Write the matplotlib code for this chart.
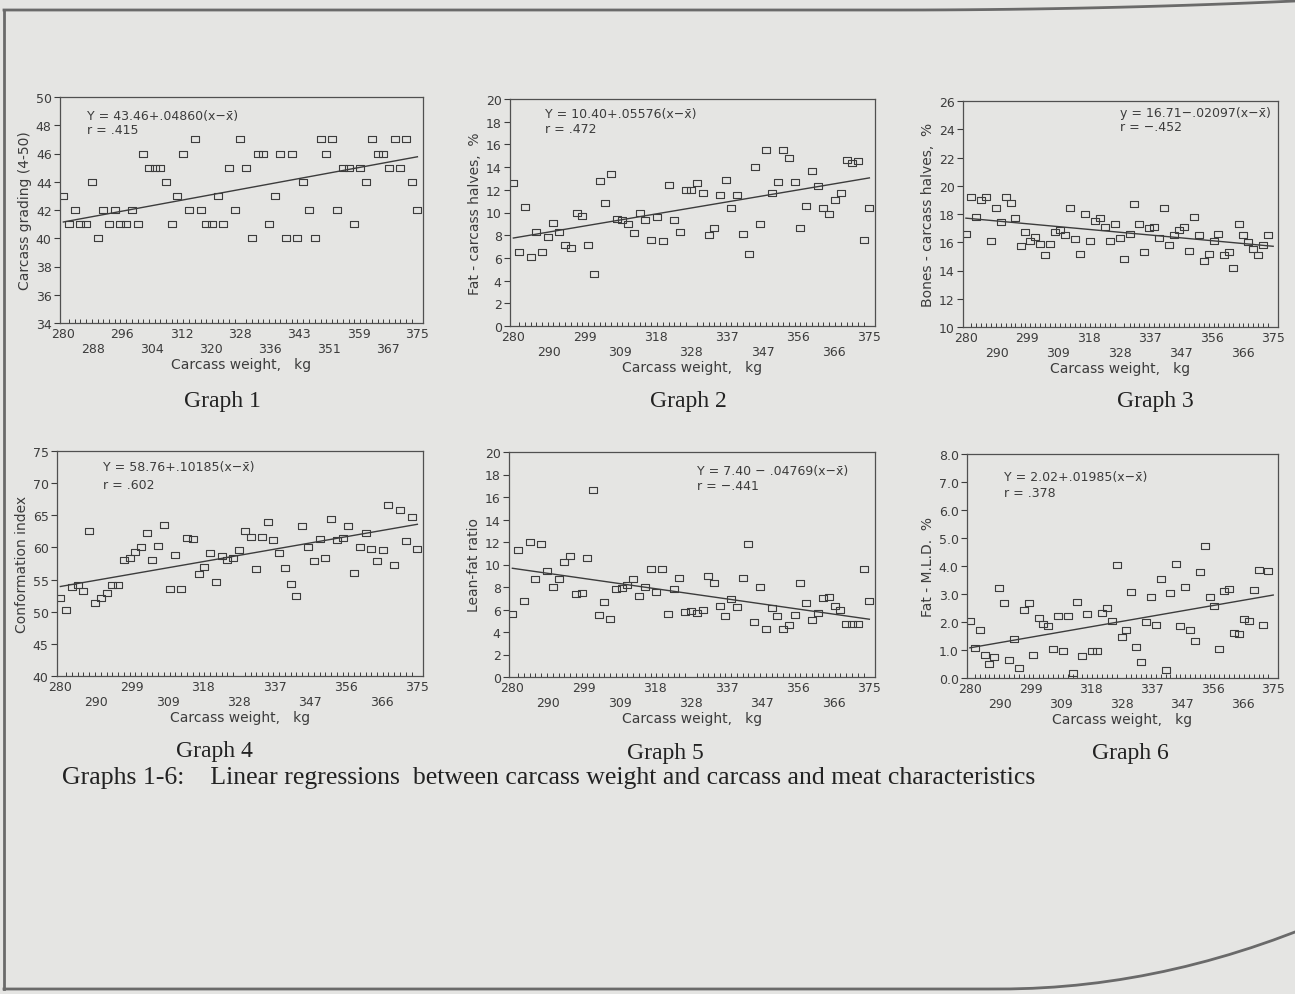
import numpy as np
import matplotlib.pyplot as plt
from matplotlib.lines import Line2D

weights = [280.0, 281.5, 283.1, 284.6, 286.1, 287.7, 289.2, 290.7, 292.3, 293.8,
           295.3, 296.9, 298.4, 299.9, 301.5, 303.0, 304.5, 306.0, 307.6, 309.1,
           310.6, 312.2, 313.7, 315.2, 316.8, 318.3, 319.8, 321.4, 322.9, 324.4,
           326.0, 327.5, 329.0, 330.6, 332.1, 333.6, 335.2, 336.7, 338.2, 339.8,
           341.3, 342.8, 344.4, 345.9, 347.4, 349.0, 350.5, 352.0, 353.5, 355.1,
           356.6, 358.1, 359.7, 361.2, 362.7, 364.3, 365.8, 367.3, 368.9, 370.4,
           371.9, 373.5, 375.0]

grading = [43, 41, 42, 41, 41, 44, 40, 42, 41, 42,
           41, 41, 42, 41, 46, 45, 45, 45, 44, 41,
           43, 46, 42, 47, 42, 41, 41, 43, 41, 45,
           42, 47, 45, 40, 46, 46, 41, 43, 46, 40,
           46, 40, 44, 42, 40, 47, 46, 47, 42, 45,
           45, 41, 45, 44, 47, 46, 46, 45, 47, 45,
           47, 44, 42]

fat_halves = [12.6, 6.5, 10.5, 6.1, 8.3, 6.5, 7.8, 9.1, 8.3, 7.1,
              6.9, 10.0, 9.7, 7.1, 4.6, 12.8, 10.8, 13.4, 9.4, 9.3,
              9.0, 8.2, 10.0, 9.3, 7.6, 9.6, 7.5, 12.4, 9.3, 8.3,
              12.0, 12.0, 12.6, 11.7, 8.0, 8.6, 11.5, 12.9, 10.4, 11.5,
              8.1, 6.3, 14.0, 9.0, 15.5, 11.7, 12.7, 15.5, 14.8, 12.7,
              8.6, 10.6, 13.7, 12.3, 10.4, 9.9, 11.1, 11.7, 14.6, 14.4,
              14.5, 7.6, 10.4]

bones_halves = [16.6, 19.2, 17.8, 19.0, 19.2, 16.1, 18.4, 17.4, 19.2, 18.8,
                17.7, 15.7, 16.7, 16.1, 16.4, 15.9, 15.1, 15.9, 16.7, 16.9,
                16.5, 18.4, 16.2, 15.2, 18.0, 16.1, 17.5, 17.7, 17.1, 16.1,
                17.3, 16.3, 14.8, 16.6, 18.7, 17.3, 15.3, 17.0, 17.1, 16.3,
                18.4, 15.8, 16.5, 16.9, 17.1, 15.4, 17.8, 16.5, 14.7, 15.2,
                16.1, 16.6, 15.1, 15.3, 14.2, 17.3, 16.5, 16.0, 15.5, 15.1,
                15.8, 16.5]

conformation = [52.2, 50.3, 53.8, 54.1, 53.2, 62.5, 51.4, 52.2, 52.9, 54.2,
                54.1, 58.1, 58.3, 59.3, 60.0, 62.2, 58.1, 60.3, 63.5, 53.6,
                58.9, 53.6, 61.4, 61.3, 55.9, 57.0, 59.1, 54.6, 58.6, 58.1,
                58.4, 59.6, 62.5, 61.6, 56.6, 61.6, 64.0, 61.1, 59.2, 56.8,
                54.3, 52.4, 63.4, 60.1, 57.9, 61.3, 58.4, 64.4, 61.2, 61.5,
                63.3, 56.0, 60.0, 62.3, 59.8, 57.9, 59.6, 66.6, 57.2, 65.8,
                61.0, 64.7, 59.8]

lean_fat = [5.6, 11.3, 6.8, 12.0, 8.7, 11.8, 9.4, 8.0, 8.7, 10.2,
            10.8, 7.4, 7.5, 10.6, 16.6, 5.5, 6.7, 5.2, 7.8, 7.9,
            8.2, 8.7, 7.2, 8.0, 9.6, 7.6, 9.6, 5.6, 7.8, 8.8,
            5.8, 5.9, 5.7, 6.0, 9.0, 8.4, 6.3, 5.4, 6.9, 6.2,
            8.8, 11.8, 4.9, 8.0, 4.3, 6.1, 5.4, 4.3, 4.6, 5.5,
            8.4, 6.6, 5.1, 5.7, 7.0, 7.1, 6.3, 6.0, 4.7, 4.7,
            4.7, 9.6, 6.8]

fat_mld = [2.05, 1.07, 1.73, 0.83, 0.49, 0.75, 3.20, 2.68, 0.65, 1.38,
           0.37, 2.44, 2.68, 0.83, 2.15, 1.94, 1.85, 1.05, 2.23, 0.96,
           2.20, 0.19, 2.73, 0.80, 2.29, 0.95, 0.95, 2.33, 2.51, 2.02,
           4.04, 1.45, 1.72, 3.08, 1.09, 0.56, 2.00, 2.91, 1.91, 3.55,
           0.30, 3.02, 4.08, 1.86, 3.25, 1.71, 1.31, 3.79, 4.71, 2.91,
           2.58, 1.02, 3.09, 3.17, 1.59, 1.56, 2.11, 2.04, 3.16, 3.84,
           1.88, 3.82]

# x tick positions / labels as printed under the graphs
xt_g1 = [280, 287.9, 295.8, 303.8, 311.7, 319.6, 327.5, 335.4, 343.3, 351.3, 359.2, 367.1, 375]
xl_g1 = ['280', '288', '296', '304', '312', '320', '328', '336', '343', '351', '359', '367', '375']
xt_std = [280, 289.5, 299, 308.5, 318, 327.5, 337, 346.5, 356, 365.5, 375]
xl_std = ['280', '290', '299', '309', '318', '328', '337', '347', '356', '366', '375']

x_mean = 327.5
intercepts = [43.46, 10.40, 16.71, 58.76, 7.40, 2.02]
slopes = [0.04860, 0.05576, -0.02097, 0.10185, -0.04769, 0.01985]

W, H = 1295, 995
bg = '#e5e5e3'
ink = '#3c3c3c'
narrow = ['Liberation Sans Narrow', 'DejaVu Sans']

fig = plt.figure(figsize=(W / 100, H / 100), dpi=100, facecolor=bg)


def px_rect(l, t, r, b):
    return [l / W, 1 - b / H, (r - l) / W, (b - t) / H]


box = [(-1.4, -1), (1.4, -1), (1.4, 1), (-1.4, 1), (-1.4, -1)]

panels = [
    dict(rect=(60, 98, 423, 324), y=grading, ylab='Carcass grading (4-50)', ylim=(34, 50),
         yt=np.arange(34, 51, 2), fmt='{:.0f}', xt=xt_g1, xl=xl_g1,
         eq='Y = 43.46+.04860(x\u2212x\u0304)', r='r = .415', tpos=(0.075, 0.92, 0.855),
         name='Graph 1', npos=(222, 401)),
    dict(rect=(510, 100, 875, 327), y=fat_halves, ylab='Fat - carcass halves,  %', ylim=(0, 20),
         yt=np.arange(0, 21, 2), fmt='{:.0f}', xt=xt_std, xl=xl_std,
         eq='Y = 10.40+.05576(x\u2212x\u0304)', r='r = .472', tpos=(0.095, 0.934, 0.868),
         name='Graph 2', npos=(688, 402)),
    dict(rect=(963, 102, 1278, 328), y=bones_halves, ylab='Bones - carcass halves,  %', ylim=(10, 26),
         yt=np.arange(10, 27, 2), fmt='{:.0f}', xt=xt_std, xl=xl_std,
         eq='y = 16.71\u2212.02097(x\u2212x\u0304)', r='r = \u2212.452', tpos=(0.50, 0.95, 0.885),
         name='Graph 3', npos=(1155, 402)),
    dict(rect=(57, 452, 423, 677), y=conformation, ylab='Conformation index', ylim=(40, 75),
         yt=np.arange(40, 76, 5), fmt='{:.0f}', xt=xt_std, xl=xl_std,
         eq='Y = 58.76+.10185(x\u2212x\u0304)', r='r = .602', tpos=(0.125, 0.929, 0.85),
         name='Graph 4', npos=(214, 752)),
    dict(rect=(509, 453, 875, 678), y=lean_fat, ylab='Lean-fat ratio', ylim=(0, 20),
         yt=np.arange(0, 21, 2), fmt='{:.0f}', xt=xt_std, xl=xl_std,
         eq='Y = 7.40 \u2212 .04769(x\u2212x\u0304)', r='r = \u2212.441', tpos=(0.515, 0.916, 0.853),
         name='Graph 5', npos=(665, 754)),
    dict(rect=(967, 455, 1278, 679), y=fat_mld, ylab='Fat - M.L.D.  %', ylim=(0, 8),
         yt=np.arange(0, 8.1, 1.0), fmt='{:.1f}', xt=xt_std, xl=xl_std,
         eq='Y = 2.02+.01985(x\u2212x\u0304)', r='r = .378', tpos=(0.12, 0.90, 0.826),
         name='Graph 6', npos=(1130, 754)),
]

for i, p in enumerate(panels):
    ax = fig.add_axes(px_rect(*p['rect']))
    ax.set_facecolor('none')
    yv = p['y']
    xv = weights[:len(yv)]
    ax.plot(xv, yv, linestyle='none', marker=box, ms=5.5, mfc='none', mec=ink, mew=0.8)

    xs = np.array([weights[0], weights[-1]])
    ax.plot(xs, intercepts[i] + slopes[i] * (xs - x_mean), color=ink, lw=1.0)

    ax.set_xlim(279.1, 376.5)
    ax.set_ylim(*p['ylim'])
    ax.set_yticks(p['yt'])
    ax.set_yticklabels([p['fmt'].format(v) for v in p['yt']])
    ax.set_xticks(p['xt'])
    ax.set_xticklabels([lab if k % 2 == 0 else '\n' + lab for k, lab in enumerate(p['xl'])])
    ax.set_xticks(weights, minor=True)
    ax.tick_params(axis='x', which='major', length=0, pad=3, labelsize=9, colors=ink)
    ax.tick_params(axis='x', which='minor', direction='in', length=3, width=0.7, color=ink)
    ax.tick_params(axis='y', direction='out', length=4, width=0.8, pad=2, labelsize=9, colors=ink)
    for s in ax.spines.values():
        s.set_color('#505050')
        s.set_linewidth(0.9)
    ax.set_xlabel('Carcass weight,   kg', fontsize=10, color=ink, labelpad=1)
    ax.set_ylabel(p['ylab'], fontsize=10, color=ink, labelpad=3, family=narrow)

    tx, ty1, ty2 = p['tpos']
    ax.text(tx, ty1, p['eq'], transform=ax.transAxes, fontsize=9, color=ink, va='center')
    ax.text(tx, ty2, p['r'], transform=ax.transAxes, fontsize=9, color=ink, va='center')

    nx, ny = p['npos']
    fig.text(nx / W, 1 - ny / H, p['name'], ha='center', va='center', fontsize=17,
             family='Liberation Serif', color='#222222')

fig.text(62 / W, 1 - 778 / H,
         'Graphs 1-6:    Linear regressions  between carcass weight and carcass and meat characteristics',
         ha='left', va='center', fontsize=18.5, family='Liberation Serif', color='#222222')

# page edge of the scan
edge = '#6a6a6a'
fig.add_artist(Line2D([4 / W, 4 / W], [1 - 11 / H, 1 - 990 / H], color=edge, lw=2))
tx_ = np.linspace(4, 1295, 60)
ty_ = 11 - 9 * np.clip((tx_ - 900) / 395, 0, 1) ** 2
fig.add_artist(Line2D(tx_ / W, 1 - ty_ / H, color=edge, lw=2))
bx_ = np.linspace(4, 1295, 60)
by_ = 990 - 57 * np.clip((bx_ - 1000) / 295, 0, 1) ** 2
fig.add_artist(Line2D(bx_ / W, 1 - by_ / H, color=edge, lw=2))

fig.savefig('out.png', dpi=100, facecolor=bg)
